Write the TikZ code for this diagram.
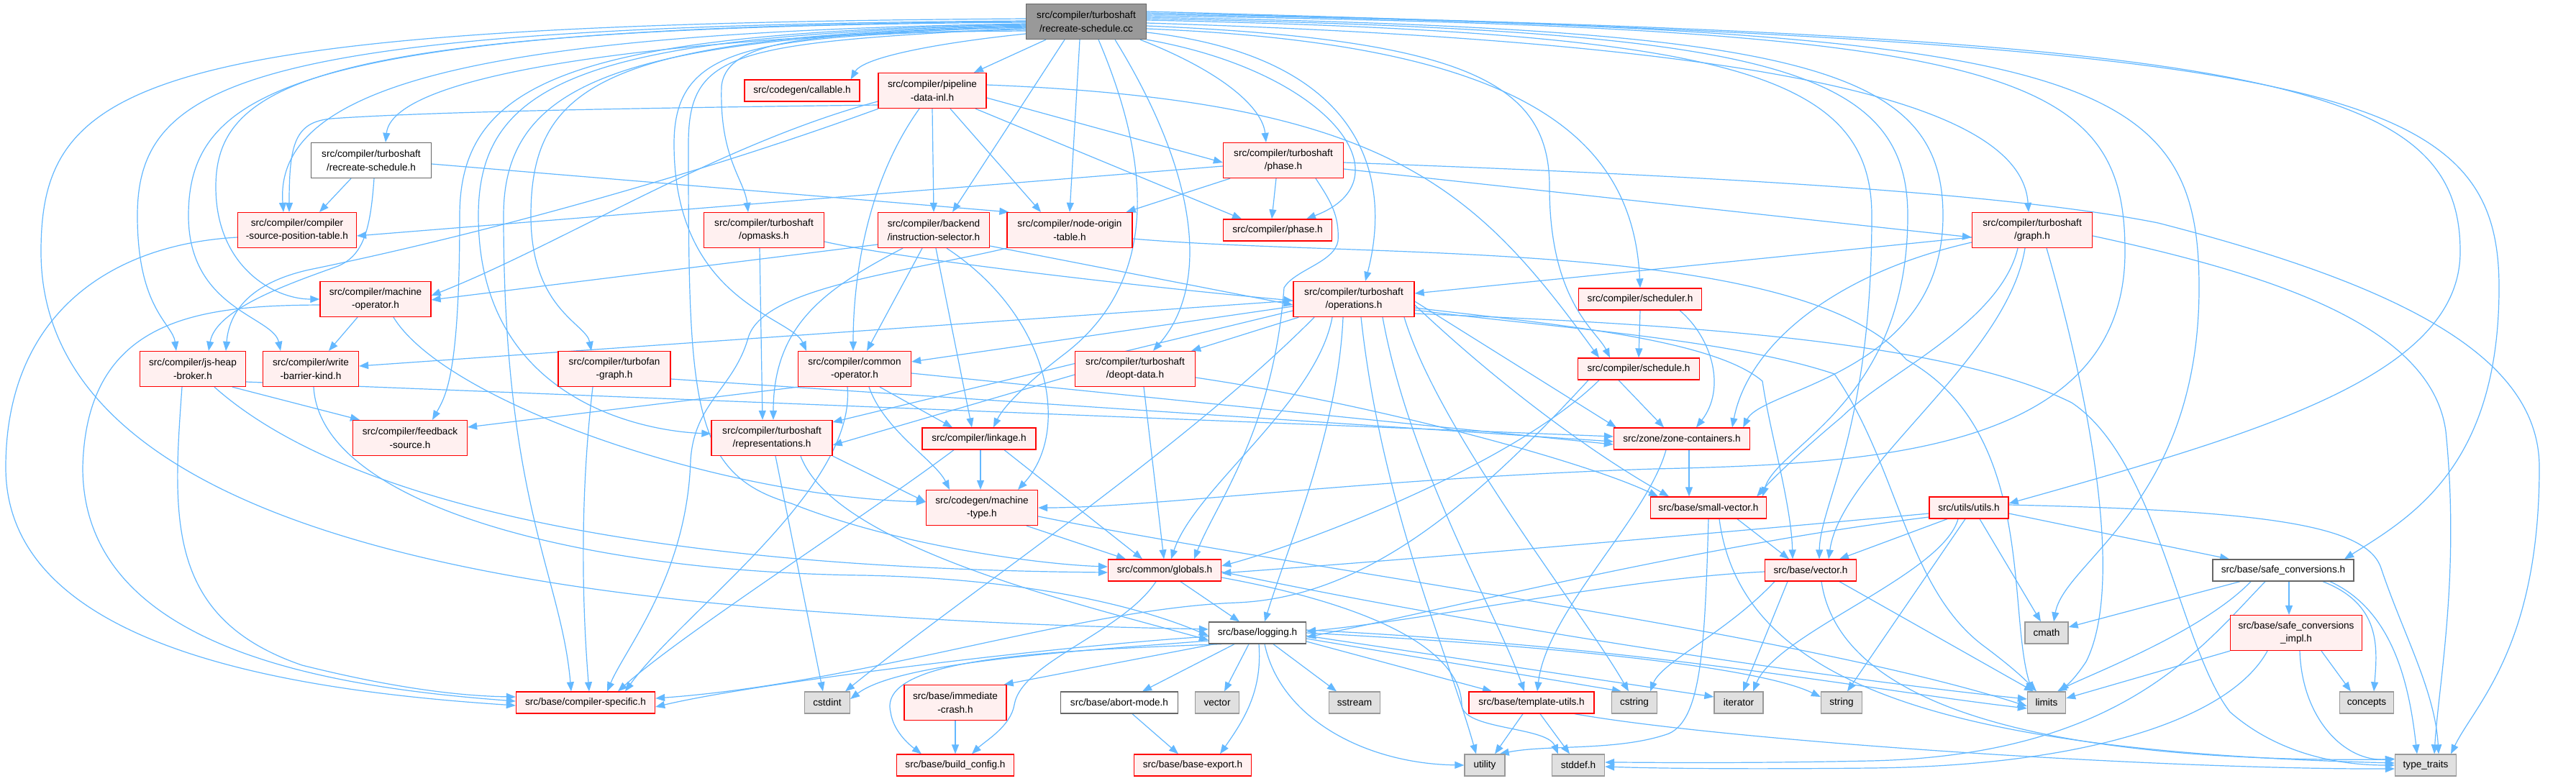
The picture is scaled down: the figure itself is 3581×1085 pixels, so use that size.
\documentclass[tikz,border=0pt]{standalone}
\usepackage{fontspec}
\setmainfont{Liberation Sans}
\usetikzlibrary{arrows.meta}
\definecolor{edgec}{HTML}{63B8FF}
\definecolor{redfill}{HTML}{FFF0F0}
\definecolor{grayfill}{HTML}{E0E0E0}
\definecolor{grayline}{HTML}{999999}
\definecolor{darkline}{HTML}{666666}
\definecolor{ccfill}{HTML}{999999}
\pgfdeclarelayer{bg}
\pgfsetlayers{bg,main}
\begin{document}
\begin{tikzpicture}[x=1pt,y=-1pt,
 base/.style={rectangle, inner sep=0pt, align=center, font=\fontsize{13.6}{18.4}\selectfont, line width=1.3pt},
 rn/.style={base, draw=red, fill=redfill},
 gn/.style={base, draw=grayline, fill=grayfill},
 wn/.style={base, draw=darkline, fill=white},
 cn/.style={base, draw=darkline, fill=ccfill},
 sz/.style 2 args={minimum width=#1pt, minimum height=#2pt},
 edg/.style={draw=edgec, line width=1.2pt, -{Triangle[length=13pt,width=10pt]}},
]
\useasboundingbox (0,0) rectangle (3581,1085);

% nodes
\node[cn,sz={167}{49}] (cc) at (1510,30) {src/compiler/turboshaft\\/recreate-schedule.cc};
\node[rn,sz={160}{30}] (callable) at (1115,126) {src/codegen/callable.h};
\node[rn,sz={150}{49}] (pipeline) at (1296,126) {src/compiler/pipeline\\-data-inl.h};
\node[wn,sz={167}{49}] (rsh) at (516,223) {src/compiler/turboshaft\\/recreate-schedule.h};
\node[rn,sz={167}{49}] (tsphase) at (1784,223) {src/compiler/turboshaft\\/phase.h};
\node[rn,sz={165}{49}] (cspt) at (413,320) {src/compiler/compiler\\-source-position-table.h};
\node[rn,sz={167}{49}] (opmasks) at (1062,320) {src/compiler/turboshaft\\/opmasks.h};
\node[rn,sz={155}{49}] (isel) at (1298,320) {src/compiler/backend\\/instruction-selector.h};
\node[rn,sz={174}{49}] (nodeorigin) at (1487,320) {src/compiler/node-origin\\-table.h};
\node[rn,sz={151}{30}] (phase) at (1776,320) {src/compiler/phase.h};
\node[rn,sz={167}{49}] (graph) at (2825,320) {src/compiler/turboshaft\\/graph.h};
\node[rn,sz={154}{49}] (machop) at (522,416) {src/compiler/machine\\-operator.h};
\node[rn,sz={168}{49}] (operations) at (1882,416) {src/compiler/turboshaft\\/operations.h};
\node[rn,sz={171}{30}] (scheduler) at (2280,416) {src/compiler/scheduler.h};
\node[rn,sz={147}{49}] (jsheap) at (268,513) {src/compiler/js-heap\\-broker.h};
\node[rn,sz={133}{49}] (wbk) at (432,513) {src/compiler/write\\-barrier-kind.h};
\node[rn,sz={156}{49}] (tfgraph) at (854,513) {src/compiler/turbofan\\-graph.h};
\node[rn,sz={157}{49}] (commonop) at (1188,513) {src/compiler/common\\-operator.h};
\node[rn,sz={167}{49}] (deopt) at (1578,513) {src/compiler/turboshaft\\/deopt-data.h};
\node[rn,sz={169}{30}] (schedule) at (2278,513) {src/compiler/schedule.h};
\node[rn,sz={159}{49}] (feedback) at (570,609) {src/compiler/feedback\\-source.h};
\node[rn,sz={168}{49}] (repr) at (1073,609) {src/compiler/turboshaft\\/representations.h};
\node[rn,sz={158}{30}] (linkage) at (1361,610) {src/compiler/linkage.h};
\node[rn,sz={189}{30}] (zone) at (2338,610) {src/zone/zone-containers.h};
\node[rn,sz={155}{49}] (mtype) at (1365,706) {src/codegen/machine\\-type.h};
\node[rn,sz={161}{30}] (smallvec) at (2375,706) {src/base/small-vector.h};
\node[rn,sz={110}{30}] (utils) at (2737,706) {src/utils/utils.h};
\node[rn,sz={157}{30}] (globals) at (1619,793) {src/common/globals.h};
\node[rn,sz={127}{30}] (vectorh) at (2517,793) {src/base/vector.h};
\node[wn,sz={196}{30}] (safeconv) at (3174,793) {src/base/safe\_conversions.h};
\node[wn,sz={135}{30}] (logging) at (1748,880) {src/base/logging.h};
\node[gn,sz={60}{30}] (cmath) at (2845,880) {cmath};
\node[rn,sz={183}{49}] (safeimpl) at (3192,880) {src/base/safe\_conversions\\\_impl.h};
\node[rn,sz={193}{30}] (cspec) at (814,977) {src/base/compiler-specific.h};
\node[gn,sz={63}{30}] (cstdint) at (1150,977) {cstdint};
\node[rn,sz={142}{49}] (immcrash) at (1328,977) {src/base/immediate\\-crash.h};
\node[wn,sz={163}{30}] (abort) at (1556,977) {src/base/abort-mode.h};
\node[gn,sz={61}{30}] (vectorstd) at (1692,977) {vector};
\node[gn,sz={71}{30}] (sstream) at (1883,977) {sstream};
\node[rn,sz={174}{30}] (tutils) at (2129,977) {src/base/template-utils.h};
\node[gn,sz={63}{30}] (cstring) at (2272,977) {cstring};
\node[gn,sz={68}{30}] (iterator) at (2417,977) {iterator};
\node[gn,sz={57}{30}] (string) at (2560,977) {string};
\node[gn,sz={53}{30}] (limits) at (2845,977) {limits};
\node[gn,sz={75}{30}] (concepts) at (3290,977) {concepts};
\node[rn,sz={163}{30}] (buildcfg) at (1328,1064) {src/base/build\_config.h};
\node[rn,sz={163}{30}] (baseexport) at (1658,1064) {src/base/base-export.h};
\node[gn,sz={56}{30}] (utility) at (2064,1064) {utility};
\node[gn,sz={73}{30}] (stddef) at (2194,1064) {stddef.h};
\node[gn,sz={85}{30}] (typetraits) at (3372,1064) {type\_traits};

\begin{pgfonlayer}{bg}
\fill[white] (0,0) rectangle (3581,1085);
% ---- from cc
\draw[edg] ([yshift=-17]cc.west) .. controls (1300,60) and (1200,80) .. ([xshift=-13]callable.north east);
\draw[edg] ([xshift=-56]cc.south) -- ([xshift=58]pipeline.north);
\draw[edg] ([xshift=-30]cc.south) -- ([xshift=26]isel.north);
\draw[edg] ([xshift=-9]cc.south) -- (nodeorigin.north);
\draw[edg] ([xshift=17]cc.south) .. controls (1610,250) and (1600,400) .. (1480,492) .. controls (1430,530) and (1395,565) .. ([xshift=20]linkage.north);
\draw[edg] ([xshift=40]cc.south) .. controls (1670,250) and (1680,400) .. ([xshift=25]deopt.north);
\draw[edg] ([xshift=75]cc.south) .. controls (1700,100) and (1755,150) .. ([xshift=-24]tsphase.north);
\draw[edg] (cc.south east) .. controls (1850,100) and (1960,250) .. ([xshift=40]phase.north);
\draw[edg] ([yshift=-15]cc.east) .. controls (1900,80) and (1935,250) .. ([xshift=16]operations.north);
\draw[edg] ([yshift=-10]cc.east) .. controls (2100,60) and (2270,180) .. (scheduler.north);
\draw[edg] ([yshift=-6]cc.east) .. controls (2050,55) and (2154,120) .. (2154,260) .. controls (2154,420) and (2220,460) .. ([xshift=-40]schedule.north);
\draw[edg] ([yshift=-2]cc.east) .. controls (2500,60) and (2810,150) .. ([xshift=-5]graph.north);
\draw[edg] ([yshift=2]cc.east) .. controls (2400,45) and (2602,100) .. (2602,300) .. controls (2602,600) and (2530,700) .. ([xshift=12]vectorh.north);
\draw[edg] ([yshift=4]cc.east) .. controls (2450,42) and (2652,90) .. (2652,300) .. controls (2652,560) and (2470,620) .. ([xshift=-6]smallvec.north east);
\draw[edg] ([yshift=6]cc.east) .. controls (2500,40) and (2701,90) .. (2701,300) .. controls (2701,520) and (2450,540) .. ([xshift=-10]zone.north east);
\draw[edg] ([yshift=8]cc.east) .. controls (2800,38) and (2954,100) .. (2954,350) .. controls (2954,630) and (2600,645) .. (2300,652) .. controls (1900,665) and (1600,706) .. (mtype.east);
\draw[edg] ([yshift=10]cc.east) .. controls (2900,40) and (3057,100) .. (3057,400) .. controls (3057,700) and (2870,780) .. ([xshift=10]cmath.north);
\draw[edg] ([yshift=12]cc.east) .. controls (3150,50) and (3420,110) .. (3420,350) .. controls (3420,520) and (3150,600) .. ([yshift=6]utils.east);
\draw[edg] ([yshift=14]cc.east) .. controls (3250,60) and (3474,120) .. (3474,400) .. controls (3474,650) and (3350,720) .. ([xshift=85]safeconv.north);
\draw[edg] ([yshift=-3]cc.west) .. controls (700,45) and (380,110) .. ([xshift=-19]cspt.north);
\draw[edg] ([yshift=-8]cc.west) .. controls (850,55) and (545,110) .. ([xshift=20]rsh.north);
\draw[edg] ([yshift=-13]cc.west) .. controls (1150,45) and (1010,50) .. (1003,120) .. controls (1000,220) and (1035,250) .. ([xshift=-22]opmasks.north);
\draw[edg] ([yshift=-1]cc.west) .. controls (450,38) and (300,110) .. (300,260) .. controls (300,370) and (380,416) .. (machop.west);
\draw[edg] ([yshift=1]cc.west) .. controls (350,36) and (191,110) .. (191,300) .. controls (191,430) and (240,450) .. ([xshift=-23]jsheap.north);
\draw[edg] (cc.west) .. controls (420,37) and (262,120) .. (262,300) .. controls (262,430) and (380,440) .. ([xshift=-42]wbk.north);
\draw[edg] ([yshift=-6]cc.west) .. controls (850,50) and (738,110) .. (738,300) .. controls (738,430) and (815,450) .. ([xshift=-32]tfgraph.north);
\draw[edg] ([yshift=-11]cc.west) .. controls (1050,50) and (937,60) .. (937,200) .. controls (937,420) and (1100,440) .. ([xshift=-67]commonop.north);
\draw[edg] ([yshift=-4]cc.west) .. controls (800,45) and (639,110) .. (639,300) .. controls (639,520) and (620,550) .. ([xshift=31]feedback.north);
\draw[edg] ([yshift=-5]cc.west) .. controls (820,48) and (665,110) .. (665,300) .. controls (665,560) and (900,600) .. ([yshift=6]repr.west);
\draw[edg] ([yshift=-7]cc.west) .. controls (870,52) and (700,110) .. (700,300) .. controls (700,700) and (780,800) .. ([xshift=-20]cspec.north);
\draw[edg] ([yshift=4]cc.west) .. controls (200,34) and (57,110) .. (57,350) .. controls (57,700) and (600,810) .. (1100,848) .. controls (1400,870) and (1550,872) .. ([yshift=5]logging.west);
\draw[edg] ([yshift=-9]cc.west) .. controls (1020,60) and (957,70) .. (957,200) .. controls (957,560) and (960,660) .. (1100,700) .. controls (1250,760) and (1450,785) .. ([yshift=5]globals.west);
% ---- pipeline
\draw[edg] ([yshift=-20]pipeline.west) .. controls (900,150) and (600,155) .. (460,165) .. controls (410,170) and (402,200) .. ([xshift=-11]cspt.north);
\draw[edg] ([yshift=-15]pipeline.west) .. controls (1000,200) and (780,340) .. ([yshift=5]machop.east);
\draw[edg] ([xshift=-75]pipeline.south) .. controls (950,250) and (650,330) .. (430,375) .. controls (340,395) and (318,440) .. ([xshift=46]jsheap.north);
\draw[edg] (pipeline.south) -- (isel.north);
\draw[edg] ([xshift=25]pipeline.south) -- ([xshift=-40]nodeorigin.north);
\draw[edg] ([xshift=60]pipeline.south) -- ([xshift=-50]phase.north);
\draw[edg] ([yshift=-10]pipeline.east) -- ([yshift=-3]tsphase.west);
\draw[edg] ([xshift=-18]pipeline.south) .. controls (1200,260) and (1186,400) .. ([xshift=-2]commonop.north);
\draw[edg] ([yshift=8]pipeline.east) .. controls (1930,140) and (2050,260) .. ([xshift=-55]schedule.north);
% ---- recreate-schedule.h
\draw[edg] ([xshift=-28]rsh.south) -- ([xshift=31]cspt.north);
\draw[edg] ([yshift=-5]rsh.east) -- ([xshift=3]nodeorigin.north west);
\draw[edg] ([xshift=4]rsh.south) .. controls (515,320) and (505,355) .. (470,370) .. controls (400,395) and (300,430) .. ([xshift=22]jsheap.north);
% ---- turboshaft/phase.h
\draw[edg] ([yshift=-8]tsphase.west) -- ([yshift=-8]cspt.east);
\draw[edg] ([xshift=-74]tsphase.south) -- ([xshift=-9]nodeorigin.north east);
\draw[edg] ([xshift=-10]tsphase.south) -- ([xshift=-8]phase.north);
\draw[edg] ([xshift=45]tsphase.south) .. controls (1850,280) and (1862,300) .. (1860,335) .. controls (1855,365) and (1800,375) .. (1785,400) .. controls (1770,600) and (1690,700) .. ([xshift=41]globals.north);
\draw[edg] ([yshift=-12]tsphase.east) -- ([yshift=-10]graph.west);
\draw[edg] ([yshift=-3]tsphase.east) .. controls (2400,245) and (2800,270) .. (3000,310) .. controls (3350,400) and (3530,500) .. (3530,650) .. controls (3530,900) and (3440,980) .. ([xshift=35]typetraits.north);
% ---- opmasks / isel / node-origin
\draw[edg] ([xshift=-6]opmasks.south) -- ([xshift=-13]repr.north);
\draw[edg] ([yshift=-16]opmasks.east) .. controls (1250,360) and (1600,400) .. ([yshift=-2]operations.west);
\draw[edg] ([yshift=-20]isel.west) -- ([yshift=-1]machop.east);
\draw[edg] ([xshift=-16]isel.south) -- ([xshift=17]commonop.north);
\draw[edg] ([xshift=3]isel.south) -- ([xshift=-10]linkage.north);
\draw[edg] ([xshift=18]isel.south) .. controls (1460,440) and (1490,600) .. ([xshift=50]mtype.north);
\draw[edg] ([yshift=-22]isel.east) -- ([yshift=-8]operations.west);
\draw[edg] ([xshift=-43]isel.south) .. controls (1150,400) and (1075,450) .. ([xshift=2]repr.north);
\draw[edg] (nodeorigin.south west) .. controls (1250,380) and (1060,400) .. (1040,470) .. controls (1020,540) and (965,560) .. (960,640) .. controls (955,800) and (870,900) .. ([xshift=30]cspec.north);
\draw[edg] ([yshift=-12]nodeorigin.east) .. controls (1900,360) and (2500,330) .. (2650,500) .. controls (2830,600) and (2790,850) .. ([xshift=-20]limits.north);
% ---- machine-operator, js-heap-broker, write-barrier, turbofan-graph
\draw[edg] ([yshift=-8]machop.west) .. controls (280,425) and (120,440) .. (115,650) .. controls (115,900) and (450,955) .. ([yshift=2]cspec.west);
\draw[edg] ([xshift=-25]machop.south) -- ([xshift=25]wbk.north);
\draw[edg] ([xshift=25]machop.south) .. controls (620,560) and (1000,690) .. ([yshift=8]mtype.west);
\draw[edg] ([xshift=55]jsheap.south) -- ([xshift=-70]feedback.north);
\draw[edg] ([xshift=30]jsheap.south) .. controls (480,700) and (900,790) .. ([yshift=-3]globals.west);
\draw[edg] ([yshift=-18]jsheap.east) -- ([yshift=3]zone.west);
\draw[edg] ([xshift=-15]jsheap.south) .. controls (240,720) and (230,860) .. (420,925) .. controls (560,960) and (650,968) .. ([yshift=8]cspec.west);
\draw[edg] ([yshift=-10]cspt.west) .. controls (150,340) and (8,440) .. (8,650) .. controls (8,900) and (400,960) .. ([yshift=-4]cspec.west);
\draw[edg] ([xshift=4]wbk.south) .. controls (445,700) and (800,795) .. (1200,800) .. controls (1450,805) and (1600,850) .. ([yshift=-4]logging.west);
\draw[edg] ([xshift=-30]tfgraph.south) .. controls (805,700) and (810,850) .. ([xshift=5]cspec.north);
\draw[edg] ([yshift=-14]tfgraph.east) -- ([yshift=-4]zone.west);
% ---- common-operator, deopt
\draw[edg] (commonop.south west) -- ([yshift=15]feedback.east);
\draw[edg] ([xshift=-10]commonop.south) .. controls (1190,680) and (950,850) .. ([xshift=55]cspec.north);
\draw[edg] ([xshift=35]commonop.south) -- ([xshift=-37]linkage.north);
\draw[edg] ([xshift=20]commonop.south) .. controls (1230,600) and (1300,640) .. ([xshift=-45]mtype.north);
\draw[edg] ([yshift=-6]commonop.east) -- ([yshift=-8]zone.west);
\draw[edg] ([yshift=-8]deopt.west) -- ([yshift=-10]repr.east);
\draw[edg] ([xshift=12]deopt.south) -- ([xshift=-1]globals.north);
\draw[edg] ([yshift=-12]deopt.east) .. controls (1900,560) and (2200,640) .. ([xshift=-70]smallvec.north);
% ---- operations
\draw[edg] ([yshift=-2]operations.west) -- ([yshift=4]wbk.east);
\draw[edg] ([yshift=-10]operations.west) -- ([yshift=10]commonop.east);
\draw[edg] ([yshift=-16]operations.west) -- ([yshift=22]repr.east);
\draw[edg] ([xshift=8]operations.south west) -- ([xshift=-6]deopt.north east);
\draw[edg] ([xshift=-30]operations.south) .. controls (1830,560) and (1660,680) .. ([xshift=9]globals.north);
\draw[edg] ([xshift=-15]operations.south) .. controls (1860,600) and (1790,760) .. ([xshift=10]logging.north);
\draw[edg] ([xshift=-55]operations.south) .. controls (1650,620) and (1350,820) .. ([xshift=25]cstdint.north);
\draw[edg] ([xshift=10]operations.south) .. controls (1920,700) and (2010,900) .. ([xshift=-12]utility.north);
\draw[edg] ([xshift=40]operations.south) .. controls (1960,650) and (2080,850) .. ([xshift=-10]tutils.north);
\draw[edg] ([xshift=70]operations.south) .. controls (2000,600) and (2200,850) .. ([xshift=-8]cstring.north);
\draw[edg] ([yshift=-3]operations.east) -- ([xshift=4]zone.north west);
\draw[edg] ([yshift=-8]operations.east) .. controls (2100,550) and (2230,640) .. ([xshift=-55]smallvec.north);
\draw[edg] ([yshift=-12]operations.east) .. controls (2150,450) and (2380,470) .. (2450,530) .. controls (2460,600) and (2490,700) .. ([xshift=-25]vectorh.north);
\draw[edg] ([yshift=-15]operations.east) .. controls (2150,455) and (2400,470) .. (2550,520) .. controls (2640,650) and (2650,820) .. (2760,900) .. controls (2800,930) and (2815,945) .. ([xshift=-14]limits.north);
\draw[edg] ([yshift=-20]operations.east) .. controls (2300,450) and (2700,470) .. (2880,560) .. controls (3000,640) and (3030,900) .. (3100,990) .. controls (3180,1060) and (3280,1064) .. (typetraits.west);
% ---- graph
\draw[edg] ([yshift=-10]graph.west) -- ([yshift=8]operations.east);
\draw[edg] ([yshift=-17]graph.west) .. controls (2550,380) and (2430,480) .. ([xshift=70]zone.north);
\draw[edg] ([xshift=-20]graph.south) .. controls (2780,450) and (2620,520) .. (2560,580) .. controls (2500,630) and (2460,670) .. ([xshift=-14]smallvec.north east);
\draw[edg] ([xshift=-10]graph.south) .. controls (2790,500) and (2560,650) .. ([xshift=25]vectorh.north);
\draw[edg] ([xshift=20]graph.south) .. controls (2890,500) and (2960,800) .. (2900,920) .. controls (2880,950) and (2870,955) .. ([xshift=18]limits.north);
\draw[edg] ([yshift=-8]graph.east) .. controls (3150,380) and (3380,450) .. (3400,600) .. controls (3420,800) and (3390,950) .. ([xshift=12]typetraits.north);
% ---- scheduler, schedule
\draw[edg] (scheduler.south) -- (schedule.north);
\draw[edg] ([xshift=55]scheduler.south) .. controls (2380,470) and (2400,540) .. ([xshift=20]zone.north);
\draw[edg] ([xshift=-28]schedule.south) -- ([xshift=-25]zone.north);
\draw[edg] ([xshift=-55]schedule.south) .. controls (2100,650) and (1800,760) .. ([yshift=6]globals.east);
\draw[edg] ([xshift=-70]schedule.south) .. controls (2050,700) and (1900,830) .. (1720,838) .. controls (1500,846) and (1200,950) .. ([yshift=6]cspec.east);
% ---- linkage, repr, machine-type
\draw[edg] ([xshift=-35]linkage.south) .. controls (1200,720) and (950,880) .. ([xshift=45]cspec.north);
\draw[edg] ([xshift=2]linkage.south) -- ([xshift=-2]mtype.north);
\draw[edg] ([xshift=35]linkage.south) -- ([xshift=-31]globals.north);
\draw[edg] ([xshift=5]repr.south) -- ([xshift=-6]cstdint.north);
\draw[edg] ([xshift=40]repr.south) .. controls (1160,760) and (1500,840) .. ([yshift=-10]logging.west);
\draw[edg] (repr.south east) -- ([yshift=8]mtype.west);
\draw[edg] ([xshift=62]mtype.south) -- ([xshift=-54]globals.north);
\draw[edg] ([yshift=-12]mtype.east) .. controls (1800,790) and (2500,880) .. ([yshift=-5]limits.west);
% ---- globals
\draw[edg] ([xshift=22]globals.south) -- ([xshift=-25]logging.north);
\draw[edg] ([xshift=-12]globals.south) .. controls (1560,880) and (1420,920) .. (1410,980) .. controls (1405,1010) and (1370,1030) .. ([xshift=23]buildcfg.north);
\draw[edg] ([yshift=-10]globals.east) .. controls (1900,840) and (2030,900) .. (2032,980) .. controls (2033,1015) and (2150,1010) .. ([xshift=-28]stddef.north);
\draw[edg] ([yshift=-2]globals.east) .. controls (2100,880) and (2600,950) .. ([yshift=5]limits.west);
% ---- logging
\draw[edg] ([yshift=-5]logging.west) .. controls (1450,900) and (1050,950) .. ([yshift=-6]cspec.east);
\draw[edg] ([yshift=-11]logging.west) .. controls (1500,905) and (1250,920) .. ([yshift=5]cstdint.east);
\draw[edg] ([xshift=-60]logging.south) -- ([xshift=-4]immcrash.north east);
\draw[edg] ([xshift=-50]logging.south) .. controls (1450,905) and (1220,915) .. (1238,990) .. controls (1242,1020) and (1270,1040) .. ([xshift=-47]buildcfg.north);
\draw[edg] ([xshift=-32]logging.south) -- ([xshift=32]abort.north);
\draw[edg] ([xshift=-12]logging.south) -- ([xshift=10]vectorstd.north);
\draw[edg] ([xshift=22]logging.south) -- ([xshift=-25]sstream.north);
\draw[edg] ([xshift=2]logging.south) .. controls (1755,960) and (1730,1000) .. ([xshift=38]baseexport.north);
\draw[edg] ([xshift=10]logging.south) .. controls (1780,1000) and (1900,1062) .. (utility.west);
\draw[edg] ([yshift=-12]logging.east) -- ([xshift=-55]tutils.north);
\draw[edg] ([yshift=-8]logging.east) -- ([xshift=-18]cstring.north);
\draw[edg] ([yshift=-4]logging.east) -- ([yshift=8]iterator.west);
\draw[edg] (logging.east) .. controls (2200,900) and (2450,930) .. ([yshift=8]string.west);
\draw[edg] ([yshift=4]logging.east) .. controls (2300,900) and (2600,960) .. ([yshift=-8]limits.west);
\draw[edg] (immcrash.south) -- (buildcfg.north);
\draw[edg] ([xshift=18]abort.south) -- ([xshift=-20]baseexport.north);
% ---- template-utils, zone, small-vector, vector
\draw[edg] ([xshift=-12]tutils.south) -- ([xshift=14]utility.north);
\draw[edg] ([xshift=12]tutils.south) -- ([xshift=-12]stddef.north);
\draw[edg] ([xshift=60]tutils.south) .. controls (2400,1030) and (3000,1070) .. ([yshift=-5]typetraits.west);
\draw[edg] ([xshift=10]zone.south) -- ([xshift=-27]smallvec.north);
\draw[edg] ([xshift=-22]zone.south) .. controls (2290,720) and (2150,850) .. ([xshift=8]tutils.north);
\draw[edg] ([xshift=40]smallvec.south) -- ([xshift=-30]vectorh.north);
\draw[edg] ([xshift=15]smallvec.south) .. controls (2420,950) and (2700,1045) .. ([yshift=3]typetraits.west);
\draw[edg] (smallvec.south) .. controls (2370,900) and (2365,1000) .. (2320,1020) .. controls (2250,1045) and (2150,1035) .. ([xshift=-8]utility.north east);
\draw[edg] ([yshift=-2]vectorh.west) .. controls (2250,805) and (2000,860) .. ([yshift=2]logging.east);
\draw[edg] ([xshift=-32]vectorh.south) -- ([xshift=6]iterator.north);
\draw[edg] ([xshift=-50]vectorh.south) .. controls (2400,880) and (2310,920) .. ([xshift=22]cstring.north);
\draw[edg] ([xshift=40]vectorh.south) -- ([xshift=-18]limits.north);
\draw[edg] ([xshift=15]vectorh.south) .. controls (2560,1000) and (2900,1060) .. ([yshift=8]typetraits.west);
% ---- utils
\draw[edg] ([yshift=-8]utils.west) .. controls (2400,740) and (2000,775) .. ([yshift=-4]globals.east);
\draw[edg] ([yshift=-13]utils.west) .. controls (2350,760) and (2000,850) .. ([yshift=-6]logging.east);
\draw[edg] ([xshift=-30]utils.south) -- ([xshift=40]vectorh.north);
\draw[edg] ([xshift=-15]utils.south) .. controls (2700,800) and (2470,880) .. ([xshift=20]iterator.north);
\draw[edg] ([xshift=-5]utils.south) -- ([xshift=8]string.north);
\draw[edg] ([xshift=15]utils.south) -- ([xshift=-8]cmath.north);
\draw[edg] ([yshift=-8]utils.east) -- ([xshift=-75]safeconv.north);
\draw[edg] ([yshift=4]utils.east) .. controls (3150,710) and (3290,730) .. (3310,790) .. controls (3340,880) and (3385,960) .. ([xshift=18]typetraits.north);
% ---- safe_conversions
\draw[edg] ([xshift=-60]safeconv.south) -- ([yshift=8]cmath.east);
\draw[edg] ([xshift=-45]safeconv.south) .. controls (3060,880) and (2900,940) .. ([xshift=15]limits.north);
\draw[edg] ([xshift=-25]safeconv.south) .. controls (3060,900) and (2950,1050) .. (2600,1058) .. controls (2400,1062) and (2280,1060) .. ([yshift=4]stddef.east);
\draw[edg] ([xshift=8]safeconv.south) -- ([xshift=-10]safeimpl.north);
\draw[edg] ([xshift=55]safeconv.south) .. controls (3310,840) and (3305,900) .. ([xshift=10]concepts.north);
\draw[edg] ([xshift=65]safeconv.south) .. controls (3330,850) and (3350,960) .. ([xshift=-12]typetraits.north);
\draw[edg] (safeimpl.south west) -- ([yshift=6]limits.east);
\draw[edg] ([xshift=35]safeimpl.south) -- ([xshift=-22]concepts.north);
\draw[edg] ([xshift=5]safeimpl.south) .. controls (3200,1000) and (3260,1060) .. ([yshift=9]typetraits.west);
\draw[edg] ([xshift=-40]safeimpl.south) .. controls (3100,1000) and (2900,1065) .. (2600,1068) .. controls (2400,1070) and (2290,1068) .. ([yshift=-2]stddef.east);
\end{pgfonlayer}
\end{tikzpicture}
\end{document}
